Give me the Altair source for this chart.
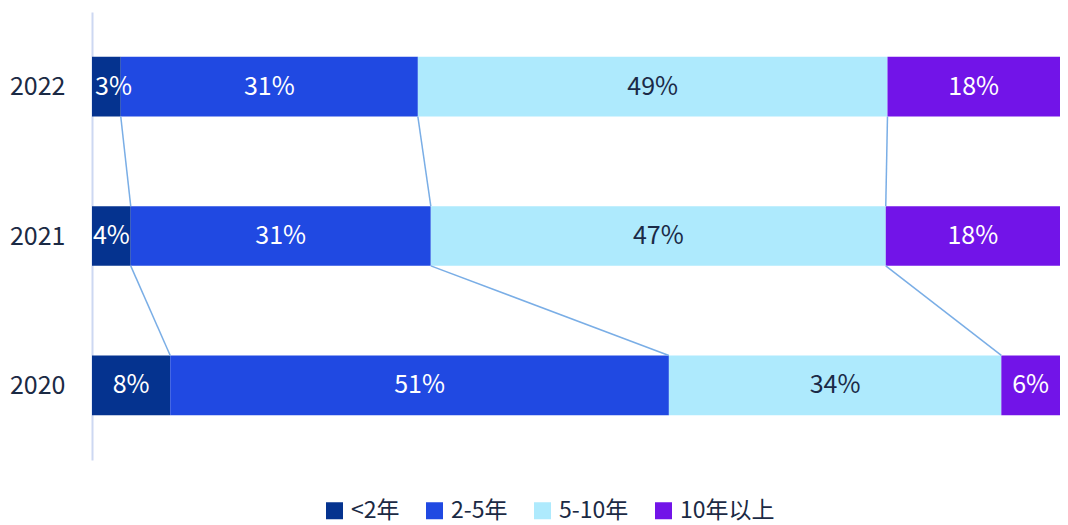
import altair as alt
import pandas as pd

years = [2022, 2021, 2020]
categories = ["<2年", "2-5年", "5-10年", "10年以上"]
v2022 = [3, 31, 49, 18]
v2021 = [4, 31, 47, 18]
v2020 = [8, 51, 34, 6]
values = {2022: v2022, 2021: v2021, 2020: v2020}

colors = ["#05338f", "#2049e2", "#aeeafd", "#7214e8"]
text_colors = ["#ffffff", "#ffffff", "#1b2a47", "#ffffff"]
HALF = 0.2

rows = []
bounds = {}
for yr in years:
    vs = values[yr]
    tot = sum(vs)
    cum = 0
    b = []
    for c, v, tc in zip(categories, vs, text_colors):
        x0 = cum / tot
        cum += v
        x1 = cum / tot
        b.append(x1)
        rows.append(dict(year=yr, cat=c, val=v, label=f"{v}%", x0=x0, x1=x1,
                         xm=(x0 + x1) / 2, y0=yr - HALF, y1=yr + HALF, tc=tc,
                         narrow=bool((x1 - x0) < 0.035)))
    bounds[yr] = b
bars = pd.DataFrame(rows)

links = []
for up, lo in [(2022, 2021), (2021, 2020)]:
    for k in range(3):
        links.append(dict(xa=bounds[up][k], ya=up - HALF, xb=bounds[lo][k], yb=lo + HALF))
links = pd.DataFrame(links)

FONT = "Noto Sans CJK SC"

yscale = alt.Scale(domain=[2019.5, 2022.5], nice=False, zero=False)
xscale = alt.Scale(domain=[0, 1], nice=False, zero=False)

base_bar = alt.Chart(bars).mark_bar(cornerRadius=0).encode(
    x=alt.X("x0:Q", scale=xscale, axis=None),
    x2="x1:Q",
    y=alt.Y("y0:Q", scale=yscale,
            axis=alt.Axis(values=years, format="d", title=None, ticks=False, grid=False,
                          labelFontSize=25, labelColor="#1b2a44", labelFont=FONT,
                          labelPadding=27, domainColor="#cdd8f2", domainWidth=2)),
    y2="y1:Q",
    color=alt.Color("cat:N", scale=alt.Scale(domain=categories, range=colors),
                    sort=categories,
                    legend=alt.Legend(orient="none", direction="horizontal", title=None,
                                      legendX=231, legendY=487,
                                      symbolType="square", symbolSize=289,
                                      symbolStrokeWidth=0, labelFontSize=23,
                                      labelFont=FONT, labelColor="#1b2a44",
                                      labelOffset=5, columnPadding=23)),
)

rules = alt.Chart(links).mark_rule(color="#7aaee6", strokeWidth=1.5).encode(
    x=alt.X("xa:Q", scale=xscale), x2="xb:Q",
    y=alt.Y("ya:Q", scale=yscale), y2="yb:Q",
)

texts = alt.Chart(bars).transform_filter("!datum.narrow").mark_text(
    fontSize=25, font=FONT).encode(
    x=alt.X("xm:Q", scale=xscale),
    y=alt.Y("year:Q", scale=yscale),
    text="label:N",
    color=alt.Color("tc:N", scale=None),
)

texts_narrow = alt.Chart(bars).transform_filter("datum.narrow").mark_text(
    fontSize=25, font=FONT, align="left", dx=3).encode(
    x=alt.X("x0:Q", scale=xscale),
    y=alt.Y("year:Q", scale=yscale),
    text="label:N",
    color=alt.Color("tc:N", scale=None),
)

chart = alt.layer(base_bar, rules, texts, texts_narrow).properties(
    width=968, height=448,
    autosize=alt.AutoSizeParams(type="none"),
    padding={"left": 84, "top": 4, "right": 0, "bottom": 65},
    background="#ffffff",
).configure_view(stroke=None)

chart.save("out.html", embed_options={"renderer": "svg", "actions": False})
